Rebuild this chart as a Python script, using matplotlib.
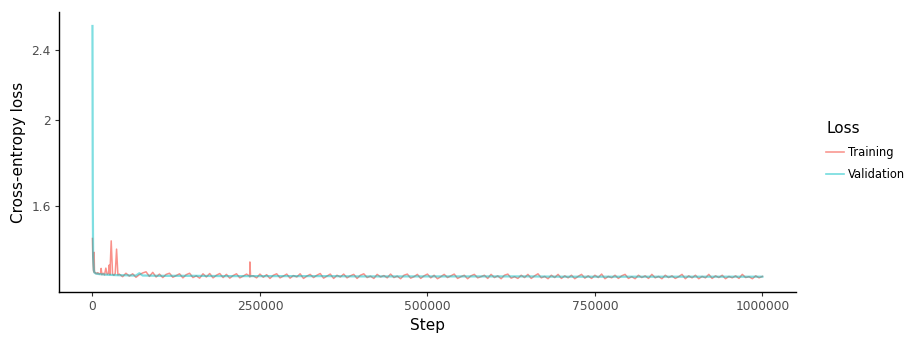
import numpy as np
import matplotlib
matplotlib.use("Agg")
import matplotlib.pyplot as plt
from matplotlib.lines import Line2D

# Training loss (dense early, then every 5000 steps)
train_steps_early = [0, 500, 1000, 1500, 2000, 2500, 3000, 4000, 5000, 6000, 7000, 8000,
                     10000, 12000, 13000, 14000, 16000, 18000, 20000, 22000, 24000, 25000,
                     26000, 28000, 30000, 32000, 34000, 36000, 38000]
train_loss_early = [1.470, 1.405, 1.372, 1.352, 1.348, 1.418, 1.346, 1.345, 1.342, 1.343, 1.341, 1.345,
                    1.340, 1.342, 1.360, 1.338, 1.343, 1.337, 1.361, 1.339, 1.343, 1.372,
                    1.338, 1.461, 1.340, 1.336, 1.342, 1.430, 1.337]
train_steps_late = list(range(40000, 1000001, 5000))
train_loss_late = [
    1.340, 1.331, 1.343, 1.333, 1.341, 1.329, 1.338, 1.344, 1.348, 1.332,
    1.346, 1.330, 1.340, 1.328, 1.339, 1.343, 1.329, 1.335, 1.341, 1.327,
    1.338, 1.343, 1.328, 1.334, 1.326, 1.341, 1.330, 1.342, 1.327, 1.336,
    1.342, 1.328, 1.339, 1.326, 1.335, 1.341, 1.327, 1.333, 1.340, 1.330,
    1.334, 1.327, 1.340, 1.329, 1.338, 1.325, 1.336, 1.341, 1.327, 1.333,
    1.340, 1.326, 1.335, 1.330, 1.341, 1.325, 1.333, 1.339, 1.328, 1.336,
    1.342, 1.326, 1.333, 1.340, 1.325, 1.336, 1.330, 1.340, 1.327, 1.334,
    1.339, 1.325, 1.336, 1.341, 1.328, 1.333, 1.325, 1.339, 1.330, 1.335,
    1.327, 1.340, 1.328, 1.333, 1.324, 1.336, 1.340, 1.326, 1.331, 1.339,
    1.325, 1.334, 1.340, 1.327, 1.336, 1.324, 1.331, 1.339, 1.328, 1.334,
    1.340, 1.325, 1.331, 1.336, 1.324, 1.334, 1.339, 1.327, 1.331, 1.336,
    1.325, 1.339, 1.328, 1.334, 1.324, 1.336, 1.340, 1.326, 1.331, 1.325,
    1.336, 1.328, 1.339, 1.325, 1.334, 1.341, 1.327, 1.332, 1.324, 1.336,
    1.328, 1.339, 1.325, 1.334, 1.327, 1.336, 1.324, 1.332, 1.339, 1.326,
    1.334, 1.325, 1.336, 1.328, 1.340, 1.324, 1.332, 1.327, 1.336, 1.325,
    1.334, 1.339, 1.325, 1.331, 1.324, 1.336, 1.328, 1.334, 1.325, 1.339,
    1.327, 1.332, 1.324, 1.336, 1.328, 1.334, 1.325, 1.331, 1.339, 1.324,
    1.334, 1.327, 1.336, 1.324, 1.332, 1.327, 1.339, 1.325, 1.334, 1.328,
    1.336, 1.324, 1.332, 1.327, 1.334, 1.325, 1.339, 1.328, 1.331, 1.324,
    1.334, 1.327, 1.332,
]
# isolated spike around step 235000
spike_steps = [234000, 235000, 236000]
spike_loss = [1.334, 1.383, 1.333]

train = sorted(zip(train_steps_early + train_steps_late + spike_steps,
                   train_loss_early + train_loss_late + spike_loss))
train_steps = [s for s, _ in train]
train_loss = [v for _, v in train]

# Validation loss
val_steps = [0, 500, 1000, 2000, 3000, 5000, 10000, 20000, 30000, 40000, 50000, 60000,
             65000, 70000, 75000, 80000, 100000, 150000, 200000, 250000, 300000, 350000,
             400000, 450000, 500000, 550000, 600000, 650000, 700000, 750000, 800000,
             850000, 900000, 950000, 1000000]
val_loss = [2.555, 1.620, 1.400, 1.355, 1.345, 1.342, 1.340, 1.338, 1.337, 1.336, 1.336, 1.335,
            1.335, 1.343, 1.335, 1.335, 1.334, 1.334, 1.333, 1.333, 1.333, 1.333,
            1.332, 1.332, 1.332, 1.332, 1.332, 1.332, 1.331, 1.331, 1.331,
            1.331, 1.331, 1.331, 1.331]

red = "#F8766D"
teal = "#00BFC4"

fig = plt.figure(figsize=(9.07, 3.37), dpi=100)
ax = fig.add_axes([0.065, 0.1335, 0.8125, 0.831])

ax.plot(train_steps, train_loss, color=red, lw=1.1, alpha=0.8)
ax.plot(val_steps, val_loss, color=teal, lw=1.6, alpha=0.5)

ax.set_yscale("log")
ax.set_ylim(1.279, 2.65)
ax.set_yticks([1.6, 2.0, 2.4])
ax.set_yticklabels(["1.6", "2", "2.4"])
ax.yaxis.set_minor_locator(matplotlib.ticker.NullLocator())
ax.set_xlim(-50000, 1050000)
ax.set_xticks([0, 250000, 500000, 750000, 1000000])
ax.set_xticklabels(["0", "250000", "500000", "750000", "1000000"])

for s in ["top", "right"]:
    ax.spines[s].set_visible(False)
for s in ["left", "bottom"]:
    ax.spines[s].set_linewidth(1.0)
    ax.spines[s].set_color("black")
ax.tick_params(length=3, width=0.8, color="#333333", labelcolor="#4D4D4D", labelsize=8.8, pad=3)

ax.set_xlabel("Step", fontsize=11, labelpad=3)
ax.set_ylabel("Cross-entropy loss", fontsize=11, labelpad=4)

handles = [Line2D([], [], color=red, lw=1.2, alpha=0.75),
           Line2D([], [], color=teal, lw=1.2, alpha=0.55)]
leg = fig.legend(handles, ["Training", "Validation"], title="Loss",
                 loc="upper left", bbox_to_anchor=(0.906, 0.655), frameon=False,
                 fontsize=8.3, title_fontsize=11, handlelength=1.5, handletextpad=0.35,
                 labelspacing=0.85, borderaxespad=0)
leg._legend_box.align = "left"

fig.savefig("out.png", dpi=100)
